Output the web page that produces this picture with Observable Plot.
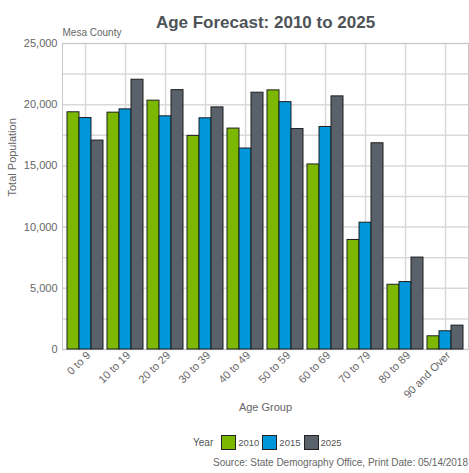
<!DOCTYPE html>
<html><head><meta charset="utf-8">
<script src="https://cdn.jsdelivr.net/npm/d3@7"></script>
<script src="https://cdn.jsdelivr.net/npm/@observablehq/plot@0.6"></script>
<style>
body{margin:0;background:#fff;font-family:"Liberation Sans",Arial,sans-serif;}
#wrap{position:relative;width:469px;height:473px;overflow:hidden;}
#legend{position:absolute;left:193px;top:435px;display:flex;align-items:center;color:#555;}
#legend .ttl{font-size:10px;margin-right:5px;}
#legend .sw{width:13px;height:13px;border:1px solid #222;margin-left:3px;}
#legend .sw:first-of-type{margin-left:0;}
#legend .lb{font-size:9.5px;margin-left:2px;}
#source{position:absolute;right:1px;top:457px;font-size:10px;color:#666;white-space:nowrap;}
</style></head><body><div id="wrap"></div>
<script>
const ageGroups = ["0 to 9","10 to 19","20 to 29","30 to 39","40 to 49","50 to 59","60 to 69","70 to 79","80 to 89","90 and Over"];
const years = ["2010","2015","2025"];
const pop2010 = [19380,19350,20330,17450,18050,21170,15120,8950,5290,1080];
const pop2015 = [18910,19620,19050,18890,16420,20210,18180,10360,5510,1490];
const pop2025 = [17070,22040,21190,19780,20980,18010,20680,16850,7510,1950];
const yTicks = [0,5000,10000,15000,20000,25000];
const yGrid = [0,2500,5000,7500,10000,12500,15000,17500,20000,22500,25000];
const colors = ["#7db800","#0096d9","#59616a"];
const titleText = "Age Forecast: 2010 to 2025";
const subtitleText = "Mesa County";
const xLabel = "Age Group";
const yLabel = "Total Population";
const legendTitle = "Year";
const sourceText = "Source: State Demography Office, Print Date: 05/14/2018";

const series = [pop2010, pop2015, pop2025];
const data = ageGroups.flatMap((g, i) => years.map((yr, j) => ({group: g, year: yr, value: series[j][i]})));

// layout: band step 40 → bandwidth 36 → three 12px sub-bars
const W = 469, ML = 62, MR = 1, PI = 0.1, PO = 0.125;
const step = (W - ML - MR) / (ageGroups.length - PI + 2 * PO);
const bw = step * (1 - PI);
const sub = bw / years.length;

const barsFor = (yr, j) => Plot.barY(data.filter(d => d.year === yr), {
  x: "group", y: "value", fill: "year", stroke: "#1e1e1e", strokeWidth: 1,
  insetLeft: sub * j, insetRight: sub * (years.length - 1 - j)
});

const plot = Plot.plot({
  width: W, height: 473,
  marginTop: 43, marginBottom: 124, marginLeft: ML, marginRight: MR,
  style: {fontFamily: "'Liberation Sans', Arial, sans-serif", fontSize: "11px", color: "#666", background: "#fff"},
  x: {domain: ageGroups, paddingInner: PI, paddingOuter: PO, label: null},
  y: {domain: [0, 25000], label: null},
  color: {domain: years, range: colors},
  marks: [
    Plot.gridY(yGrid, {stroke: "#d9d9d9", strokeOpacity: 1, strokeWidth: 1.5}),
    Plot.gridX({stroke: "#d9d9d9", strokeOpacity: 1, strokeWidth: 1.5}),
    Plot.frame({stroke: "#c8c8c8"}),
    ...years.map(barsFor),
    Plot.axisY({ticks: yTicks, tickSize: 0, tickPadding: 5, tickFormat: d3.format(","), label: null, fontSize: 11, fill: "#666"}),
    Plot.axisX({tickRotate: -45, tickSize: 0, tickPadding: 4, dx: 3, label: null, fontSize: 11, fill: "#666"}),
    Plot.text([titleText], {text: d => d, frameAnchor: "top", dy: -28, fontSize: 17, fontWeight: "bold", fill: "#4d5357"}),
    Plot.text([subtitleText], {text: d => d, frameAnchor: "top-left", textAnchor: "start", lineAnchor: "middle", dy: -11, fontSize: 10, fill: "#666"}),
    Plot.text([yLabel], {text: d => d, frameAnchor: "left", rotate: -90, dx: -50, fontSize: 11, fill: "#666"}),
    Plot.text([xLabel], {text: d => d, frameAnchor: "bottom", dy: 61, fontSize: 11, fill: "#666"})
  ]
});
const wrap = document.getElementById("wrap");
wrap.appendChild(plot);

const legend = document.createElement("div");
legend.id = "legend";
legend.innerHTML = `<span class="ttl">${legendTitle}</span>` +
  years.map((yr, i) => `<span class="sw" style="background:${colors[i]}"></span><span class="lb">${yr}</span>`).join("");
wrap.appendChild(legend);

const src = document.createElement("div");
src.id = "source";
src.textContent = sourceText;
wrap.appendChild(src);
</script></body></html>
